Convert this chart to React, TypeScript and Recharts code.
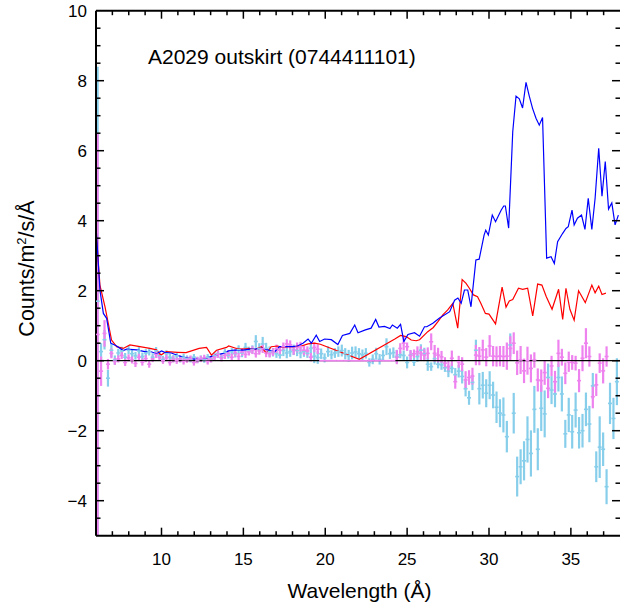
import React from 'react';
import { ComposedChart, XAxis, YAxis, Line, Scatter, ErrorBar, ReferenceLine } from 'recharts';

// Wavelength bins (Å) of both data sets
const BIN_START = 6.1;
const BIN_WIDTH = 0.21;

// Light-blue data set: flux and 1-sigma error per bin
const SKY_VALUES = [
  1.7, 0.26, 0.6, -0.5, 0.3, 0.02, 0.22, 0.28, 0.1, 0.3,
  0.2, 0.14, 0.28, 0.12, 0.22, 0.26, 0.1, 0.28, 0.14, 0.04,
  0.2, 0.1, 0.06, 0.14, 0.05, 0.1, 0.06, 0.04, 0.1, 0.02,
  0.06, 0.03, 0.1, 0.05, 0.14, 0.2, 0.1, 0.24, 0.16, 0.26,
  0.2, 0.32, 0.22, 0.38, 0.28, 0.32, 0.55, 0.35, 0.48, 0.35,
  0.26, 0.24, 0.2, 0.16, 0.29, 0.22, 0.26, 0.31, 0.29, 0.22,
  0.26, 0.21, 0.35, 0.13, 0.09, 0.2, 0.08, 0.26, 0.17, 0.22,
  0.26, 0.29, 0.2, 0.14, 0.22, 0.25, 0.2, 0.17, 0.21, -0.05,
  0.04, 0.2, 0.04, 0.15, 0.4, 0.2, 0.23, 0.12, 0.17, 0.15,
  -0.05, 0.16, -0.03, 0.12, 0.3, 0.2, -0.1, -0.17, 0.06, -0.1,
  -0.12, -0.2, -0.3, -0.22, -0.4, -0.3, -0.45, -0.8, -1.06, -0.62,
  0.3, -0.8, -0.7, -0.93, -0.7, -0.98, -1.33, -1.5, -1.55, -2.17,
  0.45, -1.5, -3.31, -3.03, -2.86, -2.25, -2.65, -1.39, -2.53, -1.36,
  -1.52, -0.48, -0.84, -0.95, -0.48, -0.95, -2.09, -1.55, -2.03, -1.41,
  -2.06, -2.0, -1.39, -1.81, -0.72, -3.03, -2.47, -2.53, -3.6, -1.22,
  -1.65, -0.6,
];
const SKY_ERRORS = [
  6.7, 0.24, 0.28, 0.24, 0.2, 0.13, 0.12, 0.12, 0.12, 0.12,
  0.12, 0.11, 0.12, 0.11, 0.11, 0.11, 0.11, 0.11, 0.1, 0.1,
  0.1, 0.1, 0.1, 0.1, 0.1, 0.1, 0.09, 0.09, 0.09, 0.09,
  0.09, 0.09, 0.09, 0.09, 0.1, 0.1, 0.1, 0.1, 0.1, 0.1,
  0.11, 0.12, 0.12, 0.13, 0.12, 0.12, 0.18, 0.15, 0.2, 0.16,
  0.15, 0.12, 0.12, 0.1, 0.16, 0.15, 0.15, 0.15, 0.16, 0.15,
  0.15, 0.13, 0.15, 0.2, 0.18, 0.15, 0.13, 0.15, 0.13, 0.14,
  0.15, 0.17, 0.16, 0.17, 0.18, 0.16, 0.16, 0.15, 0.15, 0.12,
  0.14, 0.17, 0.15, 0.15, 0.24, 0.15, 0.15, 0.19, 0.1, 0.14,
  0.17, 0.14, 0.12, 0.15, 0.17, 0.17, 0.19, 0.12, 0.17, 0.12,
  0.14, 0.12, 0.17, 0.14, 0.19, 0.18, 0.2, 0.22, 0.2, 0.22,
  0.3, 0.45, 0.38, 0.4, 0.4, 0.38, 0.45, 0.4, 0.5, 0.45,
  0.33, 0.58, 0.57, 0.5, 0.56, 0.66, 0.66, 0.67, 0.6, 0.65,
  0.67, 0.4, 0.4, 0.38, 0.4, 0.5, 0.4, 0.49, 0.48, 0.5,
  0.45, 0.48, 0.48, 0.52, 0.37, 0.44, 0.88, 0.48, 0.5, 0.59,
  0.59, 0.67,
];

// Violet data set: flux and 1-sigma error per bin
const VIOLET_VALUES = [
  0.75, -0.3, 0.78, -0.1, 0.21, -0.02, 0.05, 0.15, -0.05, 0.08,
  0.02, -0.08, 0.1, -0.04, 0.06, -0.1, 0.05, 0.18, 0.1, 0.0,
  0.08, -0.05, 0.04, 0.0, 0.05, -0.02, 0.03, 0.06, -0.05, 0.02,
  0.05, 0.08, -0.02, 0.04, 0.1, 0.18, 0.08, 0.15, 0.2, 0.1,
  0.22, 0.12, 0.25, 0.18, 0.25, 0.3, 0.2, 0.28, 0.34, 0.22,
  0.2, 0.25, 0.34, 0.3, 0.4, 0.48, 0.45, 0.3, 0.38, 0.4,
  0.3, 0.28, 0.1, 0.38, 0.33, 0, 0, 0, 0, 0,
  0, 0, 0, 0, 0, 0, 0, 0, 0, 0,
  0, 0, 0, 0, 0, 0, 0, 0.1, 0.35, 0.5,
  0.4, 0.15, 0.2, 0.26, 0.21, 0.16, 0.21, 0.54, 0.21, 0.16,
  0.11, -0.07, -0.17, 0.07, -0.6, -0.03, -0.1, -0.55, -0.48, -0.44,
  0.16, 0.13, 0.31, 0.1, 0.42, 0.13, 0.12, 0.13, 0.12, 0.13,
  0.35, 0.5, -0.06, 0.02, -0.29, 0.0, -0.22, 0.02, -0.55, -0.57,
  -0.34, -0.79, -0.15, -0.6, 0.21, 0.1, -0.36, -0.03, -0.05, -0.07,
  -0.57, 0.07, 0.5, 0.12, -1.03, -0.69, -0.07, -0.29, 0.12,
];
const VIOLET_ERRORS = [
  5.75, 0.42, 0.38, 0.15, 0.14, 0.1, 0.1, 0.1, 0.1, 0.1,
  0.1, 0.1, 0.1, 0.1, 0.1, 0.1, 0.09, 0.1, 0.1, 0.09,
  0.09, 0.09, 0.09, 0.09, 0.09, 0.09, 0.09, 0.09, 0.09, 0.09,
  0.09, 0.09, 0.09, 0.09, 0.09, 0.1, 0.1, 0.1, 0.1, 0.1,
  0.1, 0.1, 0.1, 0.1, 0.1, 0.11, 0.11, 0.11, 0.12, 0.12,
  0.11, 0.11, 0.12, 0.12, 0.12, 0.13, 0.13, 0.13, 0.14, 0.14,
  0.14, 0.13, 0.12, 0.14, 0.14, 0, 0, 0, 0, 0,
  0, 0, 0, 0, 0, 0, 0, 0, 0, 0,
  0, 0, 0, 0, 0, 0, 0, 0.2, 0.15, 0.2,
  0.12, 0.15, 0.12, 0.15, 0.2, 0.17, 0.17, 0.24, 0.24, 0.21,
  0.17, 0.17, 0.16, 0.22, 0.2, 0.17, 0.2, 0.25, 0.21, 0.24,
  0.29, 0.26, 0.29, 0.26, 0.31, 0.29, 0.29, 0.29, 0.3, 0.39,
  0.35, 0.31, 0.35, 0.4, 0.35, 0.4, 0.4, 0.22, 0.33, 0.32,
  0.35, 0.28, 0.29, 0.31, 0.39, 0.24, 0.31, 0.29, 0.21, 0.21,
  0.33, 0.37, 0.43, 0.29, 0.33, 0.32, 0.28, 0.36, 0.29,
];

// Blue model curve: [wavelength, flux]
const BLUE_LINE = [
  [6.02, 3.7], [6.24, 2.02], [6.45, 1.35], [6.65, 1.21], [6.9, 0.5], [7.26, 0.42], [7.66, 0.29], [7.87, 0.33],
  [8.48, 0.31], [9.05, 0.25], [9.29, 0.27], [9.7, 0.2], [10.0, 0.28], [10.2, 0.24], [10.6, 0.22], [11.0, 0.15],
  [11.5, 0.08], [11.9, 0.05], [12.3, 0.03], [12.6, 0.06], [12.95, 0.11], [13.4, 0.17], [13.76, 0.21], [14.1, 0.28],
  [14.58, 0.31], [15.0, 0.3], [15.4, 0.33], [15.7, 0.33], [16.1, 0.36], [16.5, 0.31], [16.9, 0.25], [17.2, 0.4],
  [17.6, 0.4], [18.0, 0.4], [18.3, 0.42], [18.64, 0.5], [18.95, 0.62], [19.15, 0.5], [19.45, 0.73], [19.66, 0.55],
  [19.96, 0.62], [20.37, 0.6], [20.77, 0.46], [21.05, 0.72], [21.5, 0.78], [21.8, 1.02], [22.0, 0.8], [22.45, 0.88],
  [22.8, 0.93], [23.08, 1.18], [23.28, 0.96], [23.62, 0.98], [23.95, 0.92], [24.1, 1.02], [24.4, 0.93], [24.6, 1.04],
  [24.8, 0.55], [25.05, 0.75], [25.45, 0.8], [25.76, 0.7], [26.06, 0.97], [26.2, 0.97], [26.57, 1.07], [26.98, 1.22],
  [27.6, 1.4], [27.9, 1.73], [28.1, 1.79], [28.3, 1.64], [28.5, 2.02], [28.7, 2.02], [28.9, 1.54], [29.2, 2.88],
  [29.4, 2.9], [29.7, 3.59], [29.8, 3.73], [29.96, 3.59], [30.2, 4.16], [30.4, 3.97], [30.74, 4.3], [30.9, 4.42],
  [31.0, 4.42], [31.2, 3.79], [31.45, 6.54], [31.65, 7.56], [31.85, 7.48], [32.05, 7.22], [32.26, 7.95], [32.46, 7.56],
  [32.66, 7.21], [32.87, 6.93], [33.07, 6.73], [33.27, 6.95], [33.52, 2.93], [33.79, 2.97], [33.99, 2.78], [34.19, 3.4],
  [34.5, 3.64], [34.7, 3.78], [34.84, 3.83], [35.07, 4.3], [35.2, 3.88], [35.4, 4.07], [35.65, 4.16], [35.86, 3.75],
  [36.06, 4.64], [36.28, 3.75], [36.48, 4.64], [36.7, 6.07], [36.9, 4.7], [37.1, 5.69], [37.3, 4.33], [37.5, 4.51],
  [37.7, 3.88], [37.9, 4.16],
];

// Red model curve: [wavelength, flux]
const RED_LINE = [
  [6.02, 3.6], [6.24, 2.16], [6.55, 1.54], [6.75, 1.07], [6.95, 0.59], [7.26, 0.4], [7.66, 0.35], [8.07, 0.45],
  [8.68, 0.4], [9.29, 0.35], [9.7, 0.31], [9.96, 0.16], [10.3, 0.26], [11.0, 0.24], [11.5, 0.23], [12.3, 0.35],
  [12.75, 0.38], [13.05, 0.16], [13.36, 0.3], [13.97, 0.38], [14.1, 0.42], [14.58, 0.35], [14.9, 0.33], [15.3, 0.35],
  [15.7, 0.32], [16.1, 0.4], [16.4, 0.21], [16.7, 0.4], [17.1, 0.42], [17.4, 0.38], [17.73, 0.4], [18.1, 0.4],
  [18.54, 0.42], [18.95, 0.48], [19.35, 0.5], [19.7, 0.47], [22.08, 0.04], [24.25, 0.62], [24.6, 0.72], [24.94, 0.69],
  [25.25, 0.59], [25.55, 0.57], [25.76, 0.6], [26.26, 0.83], [26.6, 0.95], [26.87, 1.11], [27.18, 1.31], [27.48, 1.45],
  [27.79, 1.64], [28.09, 0.93], [28.36, 2.32], [28.6, 2.21], [28.8, 2.07], [29.05, 1.88], [29.3, 1.83], [29.5, 1.64],
  [29.78, 1.35], [30.0, 1.33], [30.4, 1.05], [30.8, 2.1], [31.04, 1.53], [31.24, 1.71], [31.45, 1.75], [31.8, 2.07],
  [32.06, 2.04], [32.36, 2.07], [32.67, 1.28], [32.97, 2.19], [33.23, 2.16], [33.5, 1.83], [33.85, 1.47], [34.25, 2.04],
  [34.5, 1.18], [34.7, 2.07], [34.94, 1.47], [35.2, 1.16], [35.47, 2.0], [35.88, 1.66], [36.28, 2.16], [36.48, 1.94],
  [36.7, 2.13], [36.9, 1.89], [37.14, 1.93],
];

// Axes
const X_DOMAIN = [6, 38];
const Y_DOMAIN = [-5, 10];
const X_LABELS = [10, 15, 20, 25, 30, 35];
const Y_LABELS = [-4, -2, 0, 2, 4, 6, 8, 10];
const X_TICKS: number[] = [];
for (let v = 7; v <= 37; v++) X_TICKS.push(v);
const Y_TICKS: number[] = [];
for (let v = -4.5; v < 10; v += 0.5) Y_TICKS.push(v);

const TITLE = 'A2029 outskirt (0744411101)';
const X_TITLE = 'Wavelength (Å)';

const FONT = '"Liberation Sans", Arial, Helvetica, sans-serif';
const SKY = '#87ceeb';
const VIOLET = '#ee82ee';
const MAJOR_LEN = 8;
const MINOR_LEN = 4.5;

const skyData = SKY_VALUES.map((y, i) => ({ x: BIN_START + i * BIN_WIDTH, y, err: SKY_ERRORS[i] }));
const violetData = VIOLET_VALUES.map((y, i) => ({ x: BIN_START + i * BIN_WIDTH, y, err: VIOLET_ERRORS[i] }));
const blueData = BLUE_LINE.map(([x, y]) => ({ x, y }));
const redData = RED_LINE.map(([x, y]) => ({ x, y }));

const fmt = (v: number) => (v < 0 ? '\u2212' + Math.abs(v) : String(v));

const bottomLabel = (props: any) => (
  <text x={props.x} y={props.y} dy="0.71em" textAnchor="middle" fontSize={17} fontFamily={FONT} fill="#000">
    {fmt(Number(props.payload.value))}
  </text>
);

const leftLabel = (props: any) => (
  <text x={props.x} y={props.y} dy="0.36em" textAnchor="end" fontSize={17} fontFamily={FONT} fill="#000">
    {fmt(Number(props.payload.value))}
  </text>
);

// inward tick marks at both ends of a vertical reference line (bottom + top axes)
const vTicks = (len: number) => (p: any) => {
  const x = Number(p.x1);
  const top = Math.min(Number(p.y1), Number(p.y2));
  const bottom = Math.max(Number(p.y1), Number(p.y2));
  return (
    <g>
      <line x1={x} x2={x} y1={bottom} y2={bottom - len} stroke="#000" strokeWidth={1.5} />
      <line x1={x} x2={x} y1={top} y2={top + len} stroke="#000" strokeWidth={1.5} />
    </g>
  );
};

// inward tick marks at both ends of a horizontal reference line (left + right axes)
const hTicks = (len: number) => (p: any) => {
  const y = Number(p.y1);
  const left = Math.min(Number(p.x1), Number(p.x2));
  const right = Math.max(Number(p.x1), Number(p.x2));
  return (
    <g>
      <line x1={left} x2={left + len} y1={y} y2={y} stroke="#000" strokeWidth={1.5} />
      <line x1={right} x2={right - len} y1={y} y2={y} stroke="#000" strokeWidth={1.5} />
    </g>
  );
};

const dash = (color: string) => (p: any) =>
  p.cx == null ? <g /> : <line x1={p.cx - 2} x2={p.cx + 2} y1={p.cy} y2={p.cy} stroke={color} strokeWidth={1.6} />;

const axisLine = { stroke: '#000', strokeWidth: 2 };

export default function App() {
  return (
    <div style={{ position: 'absolute', left: 0, top: 0, width: 620, height: 603, overflow: 'hidden', background: '#fff' }}>
      <ComposedChart width={620} height={603} margin={{ top: 10.7, right: 0, bottom: 0, left: 0 }}>
        <XAxis xAxisId="main" dataKey="x" type="number" domain={X_DOMAIN} allowDataOverflow ticks={X_LABELS} interval={0}
          height={67.3} tickSize={0} tickMargin={17} tickLine={false} axisLine={axisLine} tick={bottomLabel} />
        <YAxis yAxisId="main" type="number" domain={Y_DOMAIN} allowDataOverflow ticks={Y_LABELS} interval={0}
          width={96} tickSize={0} tickMargin={9} tickLine={false} axisLine={axisLine} tick={leftLabel} />
        <Scatter xAxisId="main" yAxisId="main" data={skyData} dataKey="y" isAnimationActive={false} shape={dash(SKY)}>
          <ErrorBar dataKey="err" direction="y" width={0} stroke={SKY} strokeWidth={2.2} isAnimationActive={false} />
        </Scatter>
        <Scatter xAxisId="main" yAxisId="main" data={violetData} dataKey="y" isAnimationActive={false} shape={dash(VIOLET)}>
          <ErrorBar dataKey="err" direction="y" width={0} stroke={VIOLET} strokeWidth={2.2} isAnimationActive={false} />
        </Scatter>
        <Line xAxisId="main" yAxisId="main" data={redData} dataKey="y" type="linear" stroke="#ff0000" strokeWidth={1.2} dot={false} activeDot={false} isAnimationActive={false} />
        <Line xAxisId="main" yAxisId="main" data={blueData} dataKey="y" type="linear" stroke="#0000ff" strokeWidth={1.2} dot={false} activeDot={false} isAnimationActive={false} />
        <ReferenceLine xAxisId="main" yAxisId="main" y={0} stroke="#000" strokeWidth={1.3} />
        <ReferenceLine xAxisId="main" yAxisId="main" y={10} stroke="#000" strokeWidth={2} />
        {X_TICKS.map((v) => (
          <ReferenceLine key={'xt' + v} xAxisId="main" yAxisId="main" x={v}
            shape={vTicks(X_LABELS.includes(v) ? MAJOR_LEN : MINOR_LEN)} />
        ))}
        {Y_TICKS.map((v) => (
          <ReferenceLine key={'yt' + v} xAxisId="main" yAxisId="main" y={v}
            shape={hTicks(Y_LABELS.includes(v) ? MAJOR_LEN : MINOR_LEN)} />
        ))}
      </ComposedChart>
      <svg width={620} height={603} style={{ position: 'absolute', left: 0, top: 0, pointerEvents: 'none' }}>
        <text x={148} y={63.5} fontSize={21} fontFamily={FONT} fill="#000">{TITLE}</text>
        <text x={359.5} y={597.5} fontSize={21} fontFamily={FONT} fill="#000" textAnchor="middle">{X_TITLE}</text>
        <text transform="translate(33.5,268.5) rotate(-90)" fontSize={21.5} fontFamily={FONT} fill="#000" textAnchor="middle">
          Counts/m<tspan dy={-8} fontSize={13}>2</tspan><tspan dy={8}>/s/Å</tspan>
        </text>
      </svg>
    </div>
  );
}
